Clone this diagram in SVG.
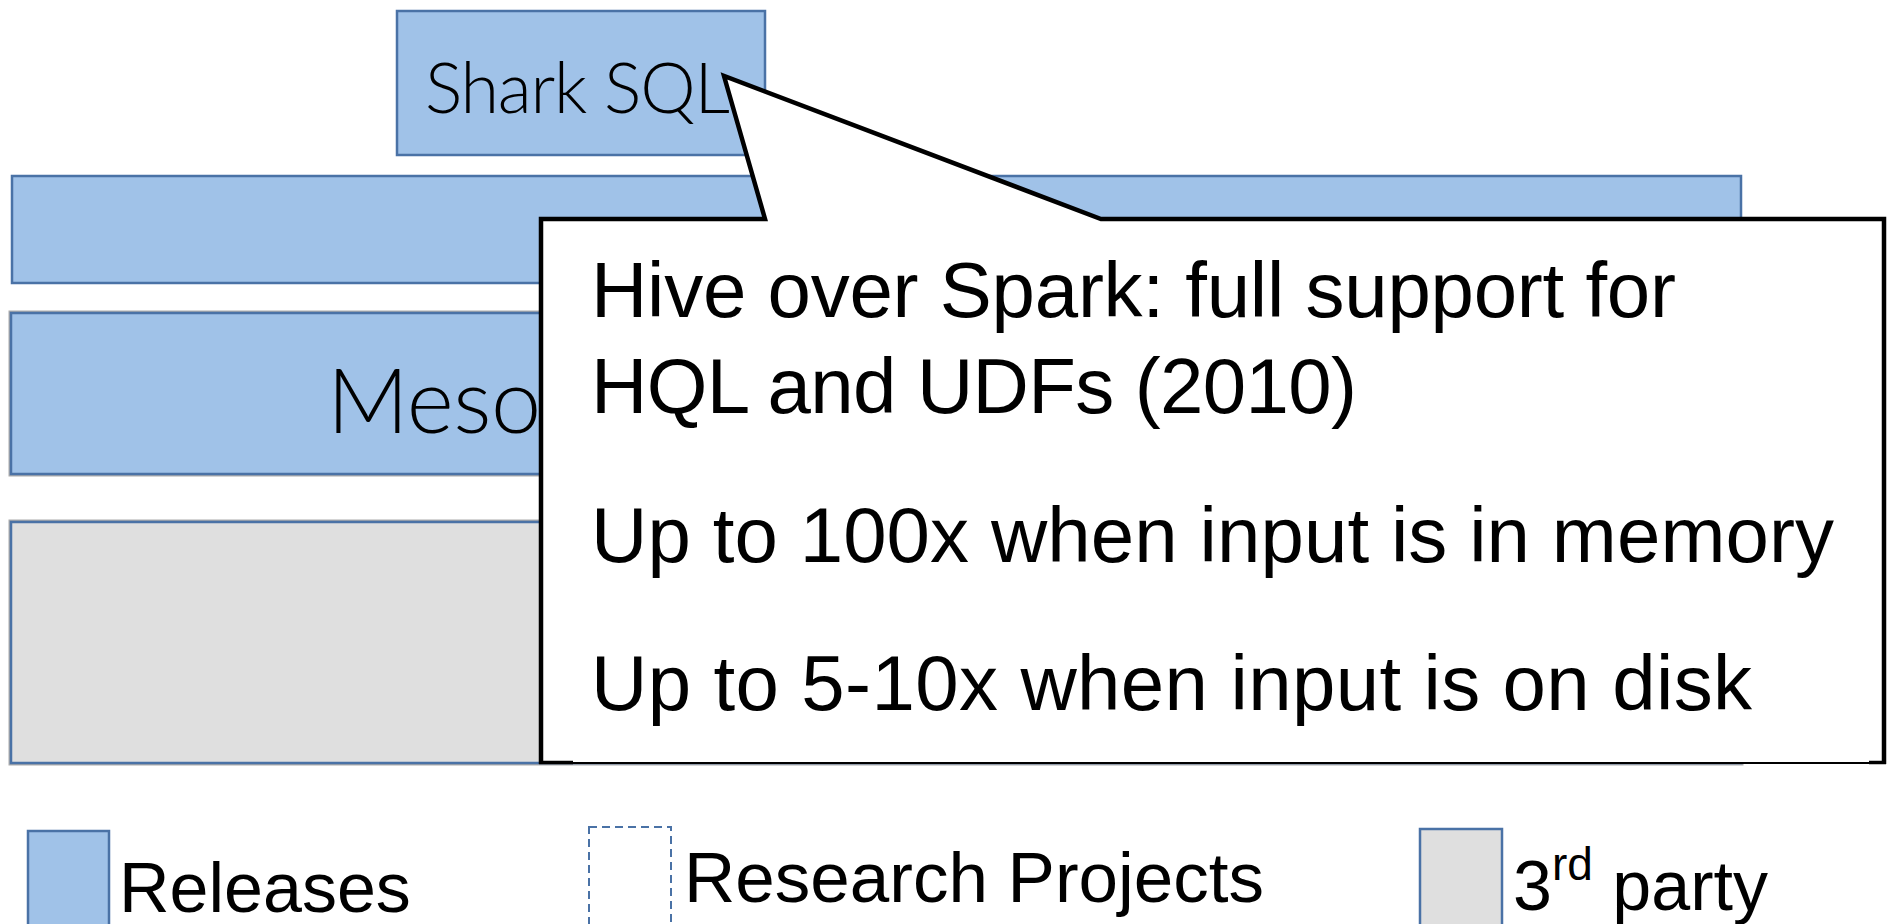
<svg xmlns="http://www.w3.org/2000/svg" width="1892" height="924" viewBox="0 0 1892 924">
<style>
.blue{fill:#A0C2E8;stroke:#4A72A6;stroke-width:2.5}
.grayfill{fill:#DFDFDF;stroke:#4A72A6;stroke-width:2.5}
.shadow{fill:none;stroke:#ABABAB;stroke-width:5}
.gill{font-family:Lato,"Open Sans","Noto Sans",sans-serif;font-weight:300;fill:#000}
.helv{font-family:"Liberation Sans",Arial,sans-serif;fill:#000}
.dash{fill:#fff;stroke:#4A72A6;stroke-width:2;stroke-dasharray:8 5}
</style>
<rect width="1892" height="924" fill="#fff"/>
<g id="spark-bar"><rect class="blue" x="12" y="176" width="1729" height="107"/></g>
<g id="mesos">
<rect class="shadow" x="11" y="313" width="1730" height="161"/>
<rect class="blue" x="11" y="313" width="1730" height="161"/>
<text class="gill" x="327" y="433" font-size="90" textLength="252">Mesos</text>
</g>
<g id="third-party-bar">
<rect class="shadow" x="11" y="522" width="1730" height="241"/>
<rect class="grayfill" x="11" y="522" width="1730" height="241"/>
</g>
<g id="shark-sql">
<rect class="blue" x="397" y="11" width="368" height="144"/>
<text class="gill" x="425" y="113" font-size="70" textLength="305">Shark SQL</text>
</g>
<g id="callout">
<path d="M541,219 L765,219 L724,76 L1101,219 L1884,219 L1884,764 L541,764 Z" fill="#fff" stroke="none"/>
<path d="M541,764 L541,219 L765,219 L724,76 L1101,219 L1884,219 L1884,764" fill="none" stroke="#000" stroke-width="4.5" stroke-linejoin="miter" stroke-miterlimit="20"/>
<line x1="541" y1="763" x2="1884" y2="763" stroke="#000" stroke-width="2"/>
<line x1="539" y1="762.5" x2="573" y2="762.5" stroke="#000" stroke-width="3.5"/>
<line x1="1869" y1="762.5" x2="1886" y2="762.5" stroke="#000" stroke-width="3.5"/>
<text class="helv" x="591" y="317" font-size="78" textLength="1085">Hive over Spark: full support for</text>
<text class="helv" x="591" y="413" font-size="78" textLength="766">HQL and UDFs (2010)</text>
<text class="helv" x="591" y="562" font-size="78" textLength="1243">Up to 100x when input is in memory</text>
<text class="helv" x="591" y="710" font-size="78" textLength="1161">Up to 5-10x when input is on disk</text>
</g>
<g id="legend-releases">
<rect class="blue" x="28" y="831" width="81" height="110"/>
<text class="helv" x="119" y="912" font-size="70">Releases</text>
</g>
<g id="legend-research">
<rect class="dash" x="589" y="827" width="82" height="110"/>
<text class="helv" x="684" y="902" font-size="71">Research Projects</text>
</g>
<g id="legend-third">
<rect class="grayfill" x="1420" y="829" width="82" height="110"/>
<text class="helv" x="1513" y="910" font-size="70">3<tspan font-size="46" dy="-30">rd</tspan><tspan dy="30"> party</tspan></text>
</g>
<g id="connectors"/>
</svg>
